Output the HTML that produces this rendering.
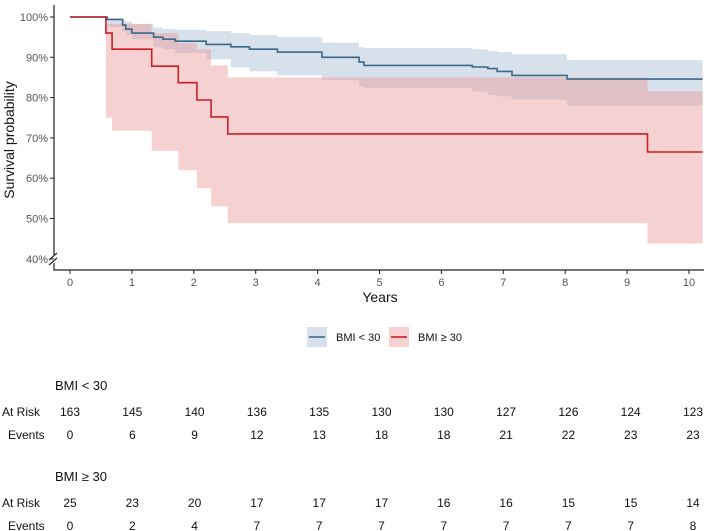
<!DOCTYPE html>
<html><head><meta charset="utf-8"><style>
body{margin:0;background:#fff;}
svg{display:block;font-family:"Liberation Sans",sans-serif;}
</style></head><body>
<svg id="chart" width="707" height="531" viewBox="0 0 707 531">
<g id="bands"></g><g id="lines"></g><g id="axes"></g><g id="table"></g>
</svg>
<script>
const blueT=[0,0.6,0.85,0.9,1.0,1.35,1.5,1.7,2.2,2.6,2.9,3.35,4.07,4.67,4.75,6.5,6.75,6.9,7.14,8.03];
const blueS=[100,99.4,98,97,96,95,94.5,94,93.2,92.6,92,91.3,90,88.8,88,87.6,87.2,86.5,85.5,84.6];
const blueU=[100,99.6,99.2,98.8,98.2,97.4,97,96.8,96.5,96,95.5,95,93.6,92.5,92.3,92,91.6,91.3,90.8,89.3];
const blueL=[100,97.5,96.5,95.5,94.5,92.5,92,91,89.5,87.5,86.5,85.5,84.3,82.8,82.4,81.5,80.6,80.3,79.5,78];
const redT=[0,0.58,0.68,1.32,1.75,2.05,2.28,2.55,9.33];
const redS=[100,96,92,87.8,83.7,79.4,75.2,71,66.5];
const redU=[100,98.3,98.3,96,93.5,92,88,85,81.6];
const redL=[100,75,71.8,66.8,62,57.5,53,48.8,43.8];
const xMax=10.22;
const xTicks=[0,1,2,3,4,5,6,7,8,9,10];
const yTicks=[40,50,60,70,80,90,100];
const riskBlue=[163,145,140,136,135,130,130,127,126,124,123];
const eventsBlue=[0,6,9,12,13,18,18,21,22,23,23];
const riskRed=[25,23,20,17,17,17,16,16,15,15,14];
const eventsRed=[0,2,4,7,7,7,7,7,7,7,8];

const X=t=>70+t*61.9;
const Y=p=>17+(100-p)*4.03;
const NS="http://www.w3.org/2000/svg";
function mk(tag,attrs,parent){const e=document.createElementNS(NS,tag);for(const k in attrs)e.setAttribute(k,attrs[k]);parent.appendChild(e);return e;}
function stepPts(T,V){let pts=[];for(let i=0;i<T.length;i++){const x0=X(T[i]),x1=X(i+1<T.length?T[i+1]:xMax);pts.push([x0,Y(V[i])],[x1,Y(V[i])]);}return pts;}
function band(T,U,L,fill,name){
  const up=stepPts(T,U),lo=stepPts(T,L).reverse();
  const d="M"+up.concat(lo).map(p=>p[0].toFixed(1)+","+p[1].toFixed(1)).join("L")+"Z";
  const p=mk("path",{d:d,fill:fill,"fill-opacity":0.45},document.getElementById("bands"));
  
  
}
function line(T,S,col,name){
  const pts=stepPts(T,S);
  const p=mk("polyline",{points:pts.map(p=>p[0].toFixed(1)+","+p[1].toFixed(1)).join(" "),fill:"none",stroke:col,"stroke-width":1.6},document.getElementById("lines"));
  
  
}
band(blueT,blueU,blueL,"#a3bcd2","ci-band-bmi-under-30");
band(redT,redU,redL,"#ec9a9c","ci-band-bmi-over-30");
line(blueT,blueS,"#3f6789","survival-line-bmi-under-30");
line(redT,redS,"#cc1f26","survival-line-bmi-over-30");

const ax=document.getElementById("axes");
let a=mk("path",{d:"M54,5V255M54,263V270H704",fill:"none",stroke:"#222","stroke-width":1.2},ax);

a=mk("path",{d:"M49,260L57,253M49,265L57,258",fill:"none",stroke:"#222","stroke-width":1.2},ax);

xTicks.forEach(t=>{
  const tk=mk("line",{x1:X(t),x2:X(t),y1:270,y2:274,stroke:"#222"},ax);
  
  const tx=mk("text",{x:X(t),y:286,"text-anchor":"middle","font-size":11,fill:"#555"},ax);
  tx.textContent=t;
  
});
yTicks.forEach(v=>{
  const tk=mk("line",{x1:50,x2:54,y1:Y(v),y2:Y(v),stroke:"#222"},ax);
  
  const tx=mk("text",{x:48,y:Y(v)+4,"text-anchor":"end","font-size":11,fill:"#555"},ax);
  tx.textContent=v+"%";
  
});
let t=mk("text",{x:380,y:302,"text-anchor":"middle","font-size":14,fill:"#111"},ax);t.textContent="Years";

t=mk("text",{x:14,y:140,"text-anchor":"middle","font-size":14,fill:"#111",transform:"rotate(-90 14 140)"},ax);t.textContent="Survival probability";


// legend
const lg=mk("g",{},ax);
[[307,"#a3bcd2","#3f6789","BMI < 30"],[389,"#ec9a9c","#cc1f26","BMI ≥ 30"]].forEach(([x,f,c,l])=>{
  const g=mk("g",{},lg);
  mk("rect",{x:x,y:327,width:20,height:20,fill:f,"fill-opacity":0.45},g);
  mk("line",{x1:x+2,x2:x+18,y1:337,y2:337,stroke:c,"stroke-width":1.6},g);
  const tx=mk("text",{x:x+29,y:341,"font-size":11,fill:"#111"},g);tx.textContent=l;
});

// risk table
const tb=document.getElementById("table");
const TX=i=>70+i*62.3;
function block(title,ty,risk,ev,name){
  const g=mk("g",{},tb);
  let tx=mk("text",{x:55,y:ty,"font-size":13,fill:"#111"},g);tx.textContent=title;
  tx=mk("text",{x:2,y:ty+26,"font-size":12,fill:"#111"},g);tx.textContent="At Risk";
  tx=mk("text",{x:8,y:ty+49,"font-size":12,fill:"#111"},g);tx.textContent="Events";
  risk.forEach((v,i)=>{const e=mk("text",{x:TX(i),y:ty+26,"font-size":12,"text-anchor":"middle",fill:"#111"},g);e.textContent=v;
    });
  ev.forEach((v,i)=>{const e=mk("text",{x:TX(i),y:ty+49,"font-size":12,"text-anchor":"middle",fill:"#111"},g);e.textContent=v;
    });
}
block("BMI < 30",390,riskBlue,eventsBlue,"risk-table-bmi-under-30");
block("BMI ≥ 30",481,riskRed,eventsRed,"risk-table-bmi-over-30");
</script>
</body></html>
